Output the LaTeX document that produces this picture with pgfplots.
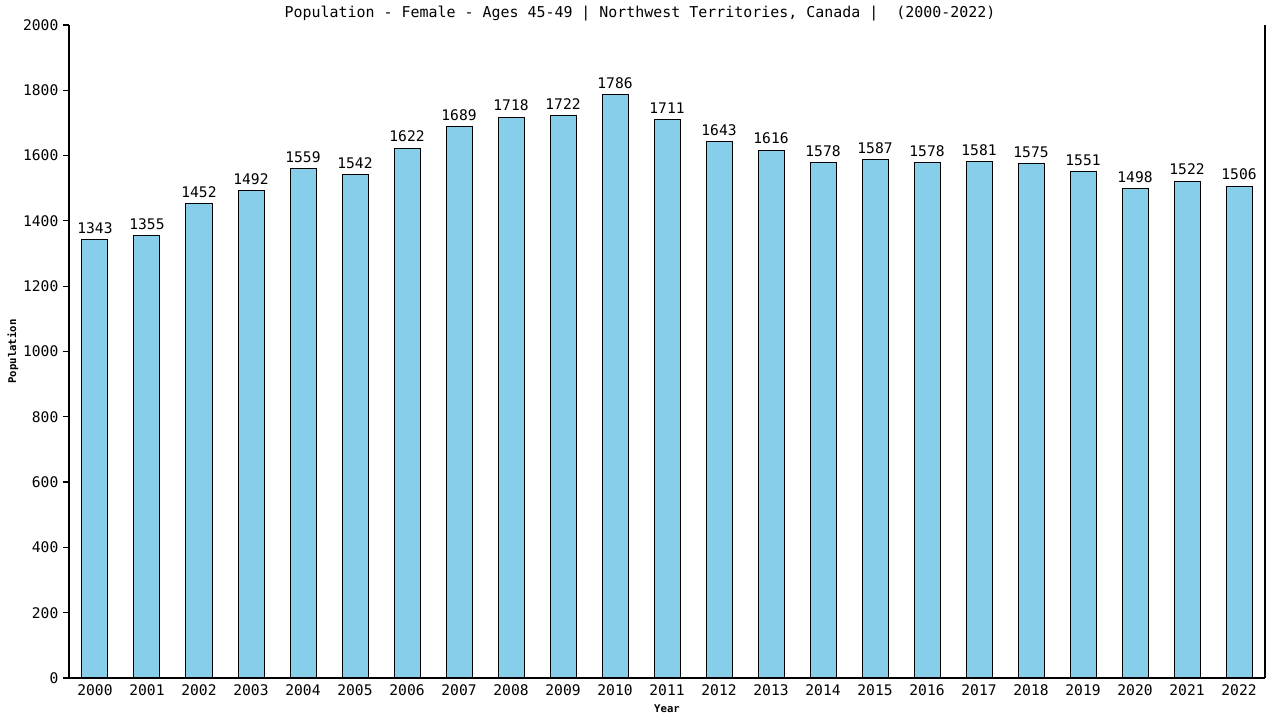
\documentclass[border=0pt]{standalone}
\usepackage{pgfplots}
\pgfplotsset{compat=1.18}
\usepackage{fontspec}
\setmainfont{DejaVu Sans Mono}
\definecolor{barblue}{HTML}{87CEEB}

\pgfplotstableread{
x year pop
0 2000 1343
1 2001 1355
2 2002 1452
3 2003 1492
4 2004 1559
5 2005 1542
6 2006 1622
7 2007 1689
8 2008 1718
9 2009 1722
10 2010 1786
11 2011 1711
12 2012 1643
13 2013 1616
14 2014 1578
15 2015 1587
16 2016 1578
17 2017 1581
18 2018 1575
19 2019 1551
20 2020 1498
21 2021 1522
22 2022 1506
}\popdata

\begin{document}
\begin{tikzpicture}
% 1 px of the reference = 0.75bp
\begin{axis}[
    scale only axis,
    width=897bp, height=489.75bp,
    xmin=-0.5, xmax=22.5,
    ymin=0, ymax=2000,
    axis x line=bottom, axis y line=left,
    axis line style={-, line width=0.9bp},
    ybar, bar width=19.5bp,
    xtick=data,
    xticklabels={2000,2001,2002,2003,2004,2005,2006,2007,2008,2009,2010,2011,2012,2013,2014,2015,2016,2017,2018,2019,2020,2021,2022},
    x tick style={draw=none},
    ytick={0,200,...,2000},
    y tick style={line width=0.9bp, black},
    tick align=outside,
    major tick length=4.5bp,
    scaled y ticks=false,
    /pgf/number format/assume math mode=true,
    /pgf/number format/1000 sep={},
    tick label style={font=\fontsize{11}{13}\selectfont},
    xticklabel style={yshift=2.75bp},
    title={Population - Female - Ages 45-49 | Northwest Territories, Canada |~~(2000-2022)},
    every axis title/.style={at={(rel axis cs:0.5,1)}, anchor=base, xshift=-20.25bp, yshift=5.25bp,
        font=\fontsize{11.25}{13}\selectfont},
    xlabel={Year},
    ylabel={Population},
    every axis x label/.style={font=\bfseries\fontsize{8}{10}\selectfont, at={(rel axis cs:0.5,0)}, anchor=center, yshift=-23.25bp},
    every axis y label/.style={font=\bfseries\fontsize{8}{10}\selectfont, at={(rel axis cs:0,0.5)}, anchor=center, xshift=-42bp, rotate=90},
    nodes near coords,
    nodes near coords style={font=\fontsize{11}{13}\selectfont, /pgf/number format/1000 sep={}, yshift=1bp},
    clip=false,
]
\addplot[draw=black, line width=0.75bp, fill=barblue] table[x=x, y=pop] {\popdata};
\draw[line width=0.9bp] (rel axis cs:1,0) -- (rel axis cs:1,1);
\coordinate (SW) at (rel axis cs:0,0);
\coordinate (NE) at (rel axis cs:1,1);
\end{axis}
\pgfresetboundingbox
\path[use as bounding box] ([shift={(-51.75bp,-31.5bp)}]SW) rectangle ([shift={(11.25bp,18.75bp)}]NE);
\end{tikzpicture}
\end{document}
